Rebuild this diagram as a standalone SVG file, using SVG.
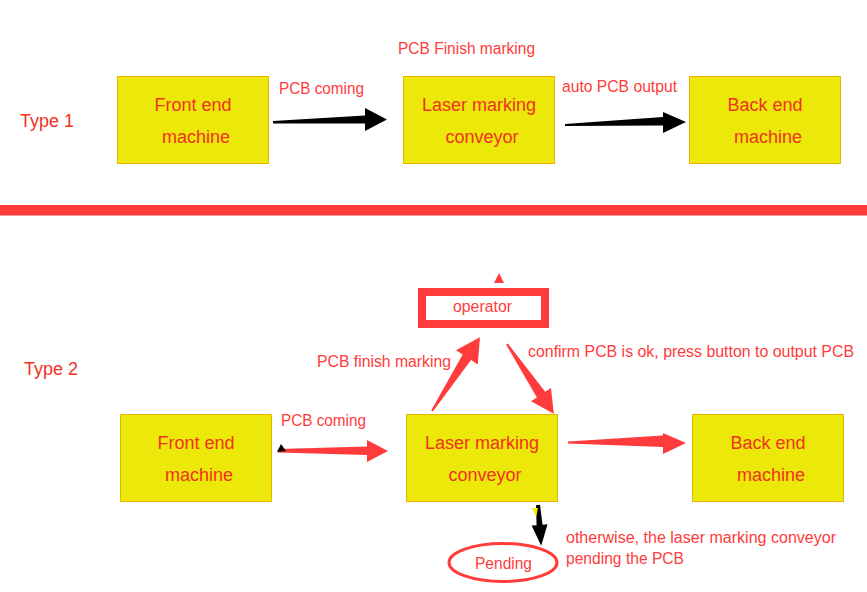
<svg xmlns="http://www.w3.org/2000/svg" width="867" height="592" viewBox="0 0 867 592">
<style>
.box{fill:#ebe80a;stroke:#e8b400;stroke-width:1}
.bt{font-family:"Liberation Sans",Arial,sans-serif;font-size:18px;fill:#f0321e;text-anchor:middle}
.lb{font-family:"Liberation Sans",Arial,sans-serif;font-size:16px;fill:#ff3b3b}
.ty{font-family:"Liberation Sans",Arial,sans-serif;font-size:18px;fill:#f0321e}
.red{fill:#ff3b3b}
.blk{fill:#000}
</style>
<rect width="867" height="592" fill="#fff"/>
<text class="ty" x="20" y="127">Type 1</text>
<text class="ty" x="24" y="375">Type 2</text>
<rect x="0" y="205" width="867" height="10.5" fill="#ff3b3b"/>
<g id="t1-front"><rect class="box" x="117.5" y="76.5" width="151" height="87"/><text class="bt" x="193" y="111">Front end</text><text class="bt" x="196" y="143">machine</text></g>
<g id="t1-laser"><rect class="box" x="403.5" y="76.5" width="151" height="87"/><text class="bt" x="479" y="111">Laser marking</text><text class="bt" x="482" y="143">conveyor</text></g>
<g id="t1-back"><rect class="box" x="689.5" y="76.5" width="151" height="87"/><text class="bt" x="765" y="111">Back end</text><text class="bt" x="768" y="143">machine</text></g>
<g id="t2-front"><rect class="box" x="120.5" y="414.5" width="151" height="87"/><text class="bt" x="196" y="449">Front end</text><text class="bt" x="199" y="481">machine</text></g>
<g id="t2-laser"><rect class="box" x="406.5" y="414.5" width="151" height="87"/><text class="bt" x="482" y="449">Laser marking</text><text class="bt" x="485" y="481">conveyor</text></g>
<g id="t2-back"><rect class="box" x="692.5" y="414.5" width="151" height="87"/><text class="bt" x="768" y="449">Back end</text><text class="bt" x="771" y="481">machine</text></g>
<g id="operator"><rect x="422" y="292" width="123" height="32" fill="#fff" stroke="#ff3b3b" stroke-width="8"/><text class="lb" x="453" y="312" textLength="59" lengthAdjust="spacingAndGlyphs">operator</text></g>
<g id="pending"><ellipse cx="503" cy="562.5" rx="54" ry="19" fill="#fff" stroke="#ff3b3b" stroke-width="3"/><text class="lb" x="475" y="569" font-size="16.5" textLength="57" lengthAdjust="spacingAndGlyphs">Pending</text></g>
<g id="connectors">
<polygon class="blk" points="273,121 365,115.5 365,108 387,119.5 365,131 365,123.5 273,123.5"/>
<polygon class="blk" points="565,124 663,117 663,112 686,122 663,133 663,125.5 565,126"/>
<polygon class="red" points="278,449 367,446.5 367,440 388,451 367,462 367,455 278,452.5"/>
<polygon class="blk" points="277,452 281,444 286,451"/>
<polygon class="red" points="568,441.5 663,435.5 663,433 686,443 663,454 663,447 568,443.5"/>
<polygon class="red" transform="translate(432,411) rotate(-57)" points="0,-1 64,-5 64,-13 88,0 64,13 64,5 0,1"/>
<polygon class="red" transform="translate(507,344) rotate(56.1)" points="0,-1 61,-5 61,-12 84,0 61,12 61,5 0,1"/>
<polygon class="red" points="494,283 499,273 504,283"/>
<polygon class="blk" transform="translate(538,505) rotate(85.5)" points="0,-2 20,-3 20,-8 41,0 20,8 20,3 0,2"/>
<polygon fill="#f5f000" points="532,508 538,508 536,517"/>
</g>
<text class="lb" x="398" y="54" textLength="137" lengthAdjust="spacingAndGlyphs">PCB Finish marking</text>
<text class="lb" x="279" y="94" textLength="85" lengthAdjust="spacingAndGlyphs">PCB coming</text>
<text class="lb" x="562" y="92" textLength="115" lengthAdjust="spacingAndGlyphs">auto PCB output</text>
<text class="lb" x="281" y="426" textLength="85" lengthAdjust="spacingAndGlyphs">PCB coming</text>
<text class="lb" x="317" y="367" textLength="134" lengthAdjust="spacingAndGlyphs">PCB finish marking</text>
<text class="lb" x="528" y="357" textLength="326" lengthAdjust="spacingAndGlyphs">confirm PCB is ok, press button to output PCB</text>
<text class="lb" x="566" y="543" textLength="270" lengthAdjust="spacingAndGlyphs">otherwise, the laser marking conveyor</text>
<text class="lb" x="566" y="564" textLength="118" lengthAdjust="spacingAndGlyphs">pending the PCB</text>
</svg>
